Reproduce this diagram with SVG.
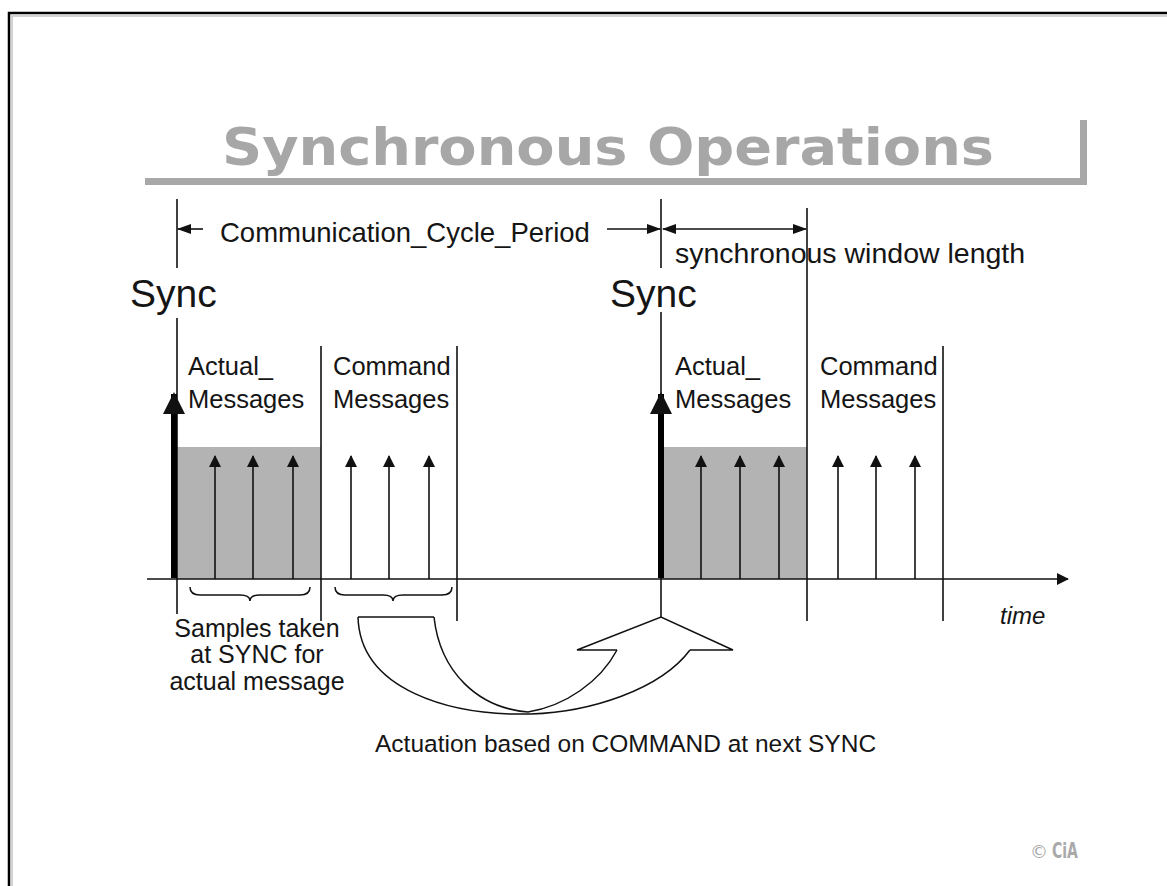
<svg xmlns="http://www.w3.org/2000/svg" width="1167" height="886" viewBox="0 0 1167 886">
  <defs>
    <style>
      .lbl { font-family: "Liberation Sans", Arial, sans-serif; fill: #151515; }
      .ln { stroke: #111; stroke-width: 1.6; fill: none; }
      .thin { stroke: #111; stroke-width: 1.5; fill: none; }
      .shade { fill: #b3b3b3; }
      .head { fill: #111; stroke: none; }
    </style>
    <marker id="tip" viewBox="0 0 12 12" refX="11" refY="6" markerWidth="12" markerHeight="12" markerUnits="userSpaceOnUse" orient="auto">
      <path d="M0,0 L12,6 L0,12 Z" class="head"/>
    </marker>
    <marker id="dim" viewBox="0 0 14 10" refX="13" refY="5" markerWidth="14" markerHeight="10" markerUnits="userSpaceOnUse" orient="auto-start-reverse">
      <path d="M0,0 L14,5 L0,10 Z" class="head"/>
    </marker>
    <marker id="bigtip" viewBox="0 0 24 22" refX="20" refY="11" markerWidth="24" markerHeight="22" markerUnits="userSpaceOnUse" orient="auto">
      <path d="M0,0 L22,11 L0,22 Z" class="head"/>
    </marker>
  </defs>

  <rect width="1167" height="886" fill="#fff"/>

  <!-- slide frame -->
  <path d="M12,886 V16 H1167" fill="none" stroke="#c4c4c4" stroke-width="1.5"/>
  <path d="M9,886 V13 H1167" fill="none" stroke="#000" stroke-width="2.5"/>

  <!-- heading -->
  <g id="title">
    <text x="222" y="165" textLength="772" lengthAdjust="spacingAndGlyphs" font-family="DejaVu Sans, Verdana, sans-serif" font-weight="bold" font-size="52" fill="#a7a7a7">Synchronous  Operations</text>
    <rect x="145" y="178" width="942" height="7" fill="#a8a8a8"/>
    <rect x="1080" y="120" width="7" height="65" fill="#a8a8a8"/>
  </g>

  <!-- shaded actual-message windows -->
  <g id="window-1">
    <rect class="shade" x="177" y="447" width="144" height="132"/>
  </g>
  <g id="window-2">
    <rect class="shade" x="662" y="447" width="145" height="132"/>
  </g>

  <g id="connectors">
    <!-- time axis -->
    <line class="ln" x1="147" y1="579" x2="1068" y2="579" marker-end="url(#tip)"/>

    <!-- SYNC marker lines -->
    <line class="ln" x1="177" y1="199" x2="177" y2="268"/>
    <line class="ln" x1="177" y1="318" x2="177" y2="614"/>
    <line class="ln" x1="661" y1="199" x2="661" y2="268"/>
    <line class="ln" x1="661" y1="312" x2="661" y2="618"/>

    <!-- window boundaries -->
    <line class="ln" x1="321" y1="346" x2="321" y2="621"/>
    <line class="ln" x1="457" y1="346" x2="457" y2="621"/>
    <line class="ln" x1="807" y1="208" x2="807" y2="621"/>
    <line class="ln" x1="943" y1="346" x2="943" y2="621"/>

    <!-- period dimension -->
    <line class="ln" x1="203" y1="229" x2="178" y2="229" marker-end="url(#dim)"/>
    <line class="ln" x1="607" y1="229" x2="660" y2="229" marker-end="url(#dim)"/>
    <line class="ln" x1="663" y1="229" x2="806" y2="229" marker-start="url(#dim)" marker-end="url(#dim)"/>

    <!-- SYNC pulses -->
    <line x1="174" y1="578" x2="174" y2="394" stroke="#000" stroke-width="6" marker-end="url(#bigtip)"/>
    <line x1="661" y1="578" x2="661" y2="394" stroke="#000" stroke-width="6" marker-end="url(#bigtip)"/>

    <!-- actual messages -->
    <line class="ln" x1="215" y1="579" x2="215" y2="456" marker-end="url(#tip)"/>
    <line class="ln" x1="253" y1="579" x2="253" y2="456" marker-end="url(#tip)"/>
    <line class="ln" x1="293" y1="579" x2="293" y2="456" marker-end="url(#tip)"/>
    <line class="ln" x1="701" y1="579" x2="701" y2="456" marker-end="url(#tip)"/>
    <line class="ln" x1="740" y1="579" x2="740" y2="456" marker-end="url(#tip)"/>
    <line class="ln" x1="779" y1="579" x2="779" y2="456" marker-end="url(#tip)"/>

    <!-- command messages -->
    <line class="ln" x1="351" y1="579" x2="351" y2="456" marker-end="url(#tip)"/>
    <line class="ln" x1="389" y1="579" x2="389" y2="456" marker-end="url(#tip)"/>
    <line class="ln" x1="429" y1="579" x2="429" y2="456" marker-end="url(#tip)"/>
    <line class="ln" x1="838" y1="579" x2="838" y2="456" marker-end="url(#tip)"/>
    <line class="ln" x1="876" y1="579" x2="876" y2="456" marker-end="url(#tip)"/>
    <line class="ln" x1="915" y1="579" x2="915" y2="456" marker-end="url(#tip)"/>

    <!-- braces -->
    <path class="thin" d="M190,587 Q190,595 200,595 L240,595 Q250,595 250,601 Q250,595 260,595 L300,595 Q310,595 310,587"/>
    <path class="thin" d="M335,587 Q335,595 345,595 L383,595 Q393,595 393,601 Q393,595 403,595 L442,595 Q452,595 452,587"/>

    <!-- curved actuation arrow -->
    <path class="thin" d="M358,617 H434"/>
    <path class="thin" d="M358,617 C360,690 450,716 531,714 C590,712 660,690 690,650"/>
    <path class="thin" d="M434,617 C440,672 478,708 528,712 C565,706 600,682 617,650"/>
    <path class="thin" d="M617,650 H577 L661,617 L733,650 H690"/>
  </g>

  <!-- labels -->
  <g id="sync-1">
    <text class="lbl" x="130" y="307" font-size="39">Sync</text>
  </g>
  <g id="sync-2">
    <text class="lbl" x="610" y="307" font-size="39">Sync</text>
  </g>
  <g id="period-label">
    <text class="lbl" x="220" y="242" font-size="27.5">Communication_Cycle_Period</text>
  </g>
  <g id="window-label">
    <text class="lbl" x="675" y="263" font-size="28.5">synchronous window length</text>
  </g>
  <g id="actual-1">
    <text class="lbl" x="188" y="375" font-size="25.5">Actual_</text>
    <text class="lbl" x="188" y="408" font-size="25.5">Messages</text>
  </g>
  <g id="command-1">
    <text class="lbl" x="333" y="375" font-size="25.5">Command</text>
    <text class="lbl" x="333" y="408" font-size="25.5">Messages</text>
  </g>
  <g id="actual-2">
    <text class="lbl" x="675" y="375" font-size="25.5">Actual_</text>
    <text class="lbl" x="675" y="408" font-size="25.5">Messages</text>
  </g>
  <g id="command-2">
    <text class="lbl" x="820" y="375" font-size="25.5">Command</text>
    <text class="lbl" x="820" y="408" font-size="25.5">Messages</text>
  </g>
  <g id="time-label">
    <text class="lbl" x="1000" y="624" font-size="24" font-style="italic">time</text>
  </g>
  <g id="samples-note">
    <text class="lbl" x="257" y="637" font-size="25" text-anchor="middle">Samples taken</text>
    <text class="lbl" x="257" y="663" font-size="25" text-anchor="middle">at SYNC for</text>
    <text class="lbl" x="257" y="690" font-size="25" text-anchor="middle">actual message</text>
  </g>
  <g id="actuation-note">
    <text class="lbl" x="375" y="752" font-size="24.5">Actuation based on COMMAND at next SYNC</text>
  </g>
  <g id="copyright">
    <text x="1030" y="858" font-family="DejaVu Sans, Verdana, sans-serif" font-size="18" fill="#a9a9a9">©</text>
    <text x="1052" y="858" textLength="26" lengthAdjust="spacingAndGlyphs" font-family="DejaVu Sans, Verdana, sans-serif" font-weight="bold" font-size="21" fill="#a9a9a9">CiA</text>
  </g>
</svg>
